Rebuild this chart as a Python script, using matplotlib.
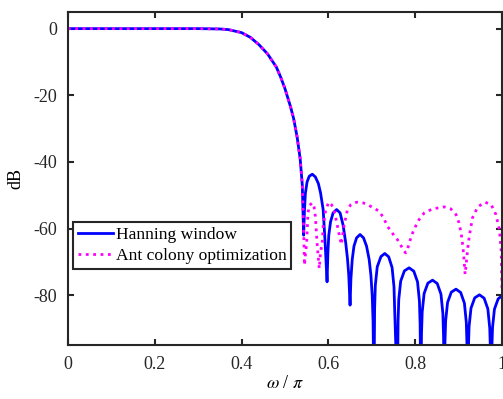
import matplotlib
matplotlib.use("Agg")
import matplotlib.pyplot as plt

plt.rcParams['font.family'] = ['Liberation Serif', 'DejaVu Serif']
plt.rcParams['mathtext.fontset'] = 'stix'

# passband + transition (both designs share it)
w_common = [0.0, 0.10, 0.20, 0.30, 0.35, 0.37, 0.40, 0.42, 0.44, 0.46, 0.48, 0.49,
            0.50, 0.513, 0.52, 0.528, 0.535, 0.540]
db_common = [0.0, 0.0, 0.0, 0.0, -0.1, -0.3, -1.2, -2.6, -4.8, -7.6, -11.5, -14.5,
             -18.0, -23.5, -27.0, -32.5, -39.0, -47.0]

# Hanning window stopband
w_hann = [0.543, 0.545, 0.547, 0.551, 0.556, 0.563, 0.570, 0.577, 0.582, 0.588, 0.592, 0.594,
          0.597, 0.599, 0.601, 0.605, 0.611, 0.619, 0.627, 0.634, 0.640, 0.644, 0.647,
          0.650, 0.652, 0.655, 0.659, 0.665, 0.673, 0.681, 0.688, 0.694, 0.698, 0.701, 0.703,
          0.705, 0.7066, 0.7082, 0.7126, 0.7212, 0.730, 0.739, 0.7468, 0.7512, 0.7528,
          0.759, 0.7606, 0.7622, 0.7666, 0.7752, 0.786, 0.7968, 0.8054, 0.8098, 0.8114,
          0.813, 0.8146, 0.8162, 0.8206, 0.8292, 0.840, 0.8508, 0.8594, 0.8638, 0.8654,
          0.867, 0.8686, 0.8702, 0.8746, 0.8832, 0.894, 0.9048, 0.9134, 0.9178, 0.9194,
          0.921, 0.9226, 0.9242, 0.9286, 0.9372, 0.948, 0.9588, 0.9674, 0.9718, 0.9734,
          0.975, 0.9766, 0.9782, 0.9826, 0.9912, 1.0]
db_hann = [-62, -54.5, -49.5, -46, -44.3, -43.7, -44.5, -46.5, -49.3, -54.3, -63, -68,
           -76, -67, -62, -58, -55.3, -54.3, -55.3, -59, -64.3, -69, -74,
           -83, -75, -69.3, -65.3, -62.8, -61.8, -62.8, -65.3, -69.3, -74, -80, -88,
           -110, -84, -77, -71.5, -68.4, -67.5, -68.5, -71.7, -77.5, -84.5,
           -110, -87.8, -81.3, -75.8, -72.7, -71.8, -72.8, -76, -81.8, -88.8,
           -110, -91.5, -85, -79.5, -76.4, -75.5, -76.5, -79.7, -85.5, -92.5,
           -110, -94.2, -87.7, -82.2, -79.1, -78.2, -79.2, -82.4, -88.2, -95.2,
           -110, -95.9, -89.4, -83.9, -80.8, -79.9, -80.9, -84.1, -89.9, -96.9,
           -110, -96.2, -89.7, -84.2, -81.1, -80.2]

# ant colony optimization stopband
w_aco = [0.543, 0.545, 0.547, 0.550, 0.553, 0.557, 0.563, 0.567, 0.570, 0.574, 0.577, 0.579,
         0.582, 0.586, 0.588, 0.594, 0.601, 0.607, 0.613, 0.621, 0.626, 0.630,
         0.633, 0.636, 0.644, 0.652, 0.660, 0.667, 0.680, 0.690, 0.701, 0.717, 0.728,
         0.736, 0.748, 0.759, 0.769, 0.775, 0.778, 0.781, 0.785, 0.790, 0.797, 0.809, 0.821,
         0.840, 0.867, 0.882, 0.894, 0.901, 0.906, 0.910, 0.913, 0.915, 0.918, 0.921, 0.925, 0.932,
         0.944, 0.961, 0.975, 0.986, 0.994, 0.998, 1.0]
db_aco = [-60, -71, -68, -64.3, -55.3, -53, -52.3, -53.5, -56.3, -64.3, -69, -72,
          -67, -64.3, -59.3, -54.3, -52.1, -52.8, -54.3, -59.3, -62.5, -64.8,
          -62, -59.3, -54.3, -52.8, -52.2, -52.1, -52.3, -52.8, -53.6, -54.8, -57,
          -59.3, -61.5, -63.3, -65.5, -66.8, -67.3, -66.8, -65, -62.8, -60.3, -57.3, -55.3,
          -54.1, -53.5, -54.1, -55.8, -58.3, -61.5, -65.5, -70, -73.7, -70, -66, -62, -56.8,
          -53.5, -52.1, -52.8, -55.8, -60.3, -66.3, -78]

fig = plt.figure(figsize=(5.03, 3.99), dpi=100)
ax = fig.add_axes([0.135, 0.135, 0.863, 0.835])

ax.plot(w_common + w_hann, db_common + db_hann, color='#0000FF', lw=2, label='Hanning window')
ax.plot(w_common + w_aco, db_common + db_aco, color='#FF00FF', lw=2, ls=':', label='Ant colony optimization')

ax.set_xlim(0, 1)
ax.set_ylim(-95, 5)
ax.set_xticks([0, 0.2, 0.4, 0.6, 0.8, 1])
ax.set_xticklabels(['0', '0.2', '0.4', '0.6', '0.8', '1'])
ax.set_yticks([0, -20, -40, -60, -80])
ax.set_yticklabels(['0', '-20', '-40', '-60', '-80'])
ax.tick_params(direction='in', top=True, right=True, labelsize=13, length=4, width=1.5,
               colors='#262626', pad=8)
for s in ax.spines.values():
    s.set_linewidth(1.5)
    s.set_color('#262626')

ax.set_xlabel(r'$\omega$ / $\pi$', fontsize=13, labelpad=1)
ax.set_ylabel('dB', fontsize=13, labelpad=6)

leg = ax.legend(loc='upper left', bbox_to_anchor=(0.012, 0.37), fontsize=12.6, handlelength=2.0,
                handletextpad=0.15, borderpad=0.28, labelspacing=0.28, borderaxespad=0,
                fancybox=False, framealpha=1)
leg.get_frame().set_edgecolor('#262626')
leg.get_frame().set_linewidth(1.5)

fig.savefig('out.png', dpi=100)
